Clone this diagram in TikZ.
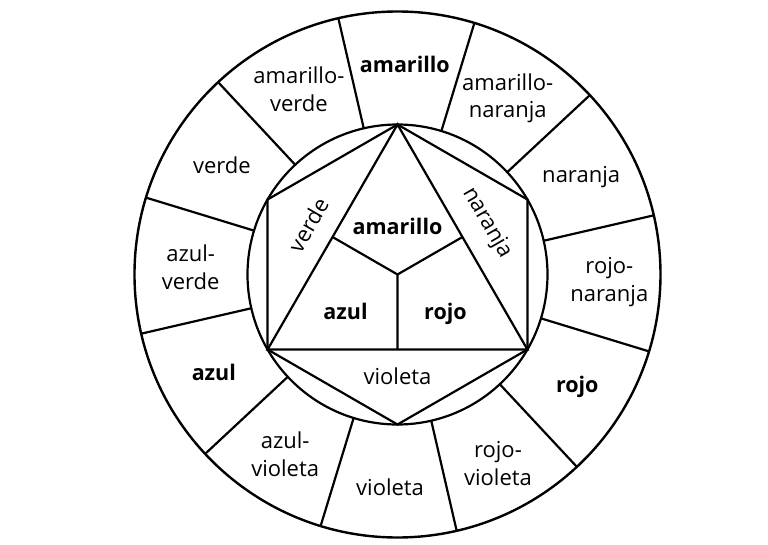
\documentclass[tikz,border=0pt]{standalone}
\usepackage{fontspec}
\setmainfont{Open Sans}
\usetikzlibrary{calc}

\begin{document}
\begin{tikzpicture}[
    x=1pt, y=1pt,
    font=\fontsize{22}{27.5}\selectfont,
    line/.style={line width=2.2pt, line join=miter},
    lbl/.style={align=center, inner sep=1pt},
    prim/.style={lbl, font=\fontsize{21.5}{27}\selectfont\bfseries},
  ]
  \useasboundingbox (-397.5,-269.5) rectangle (370.5,274.5);
  % rings
  \node[circle, minimum size=526pt, line width=2.4pt, draw] (outer) at (0,0) {};
  \node[circle, minimum size=300pt, line width=2.2pt, draw] (inner) at (0,0) {};
  \foreach \a in {13,43,...,343}
    \draw[line] (\a:150) -- (\a:263);
  % hexagon and triangle
  \coordinate (top) at (90:150);
  \coordinate (ur) at (30:150);
  \coordinate (lr) at (-30:150);
  \coordinate (bot) at (-90:150);
  \coordinate (ll) at (-150:150);
  \coordinate (ul) at (150:150);
  \coordinate (mid) at (0,0);
  \draw[line] (top) -- (ur) -- (lr) -- (bot) -- (ll) -- (ul) -- cycle;
  \draw[line] (top) -- (lr) -- (ll) -- cycle;
  \draw[line] (mid) -- ($(top)!.5!(ll)$) (mid) -- ($(top)!.5!(lr)$) (mid) -- ($(ll)!.5!(lr)$);
  % outer labels
  \node[prim] (amo) at (88:210) {amarillo};
  \node[lbl] (amnar) at (58:208) {amarillo-\\naranja};
  \node[lbl] (naro) at (28:208) {naranja};
  \node[lbl] (rojnar) at (-2:212) {rojo-\\naranja};
  \node[prim] (rojoo) at (-32:212) {rojo};
  \node[lbl] (rojvio) at (-62:214) {rojo-\\violeta};
  \node[lbl] (vioo) at (-92:213) {violeta};
  \node[lbl] (azvio) at (-122:212) {azul-\\violeta};
  \node[prim] (azo) at (-152:208) {azul};
  \node[lbl] (azver) at (178:207) {azul-\\verde};
  \node[lbl] (vero) at (148:207) {verde};
  \node[lbl] (amver) at (118:210) {amarillo-\\verde};
  % inner labels
  \node[prim] (ami) at (0,48) {amarillo};
  \node[prim] (azi) at (-52,-37) {azul};
  \node[prim] (roji) at (48,-39) {rojo};
  \node[lbl, rotate=60] (veri) at (151:102) {verde};
  \node[lbl, rotate=-60] (nari) at (30:103) {naranja};
  \node[lbl] (vioi) at (0,-102) {violeta};
\end{tikzpicture}
\end{document}
